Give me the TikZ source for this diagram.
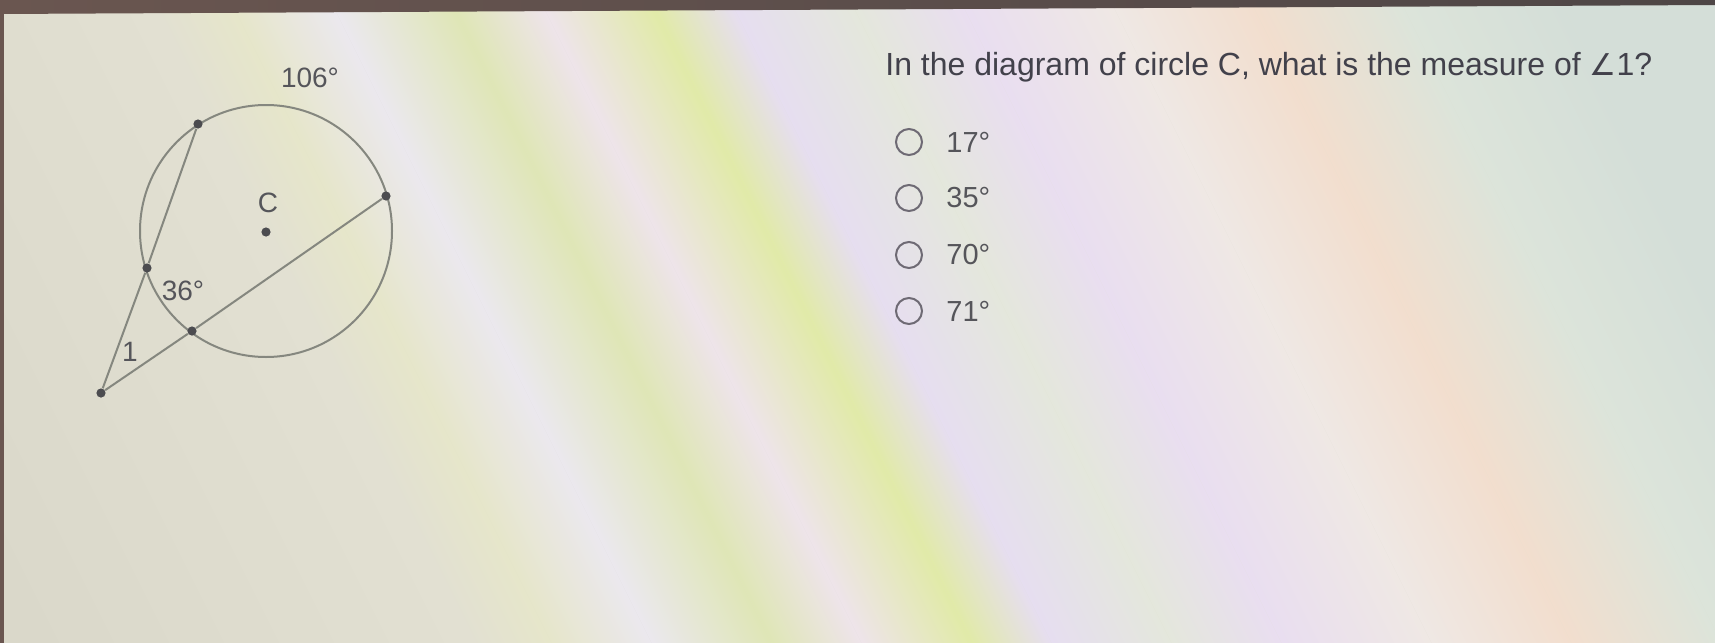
\documentclass[tikz,border=0pt]{standalone}
\usepackage{fontspec}
\setmainfont{Liberation Sans}
\newfontfamily\dejavu{DejaVu Sans}
\definecolor{c0}{HTML}{D8D6C8}
\definecolor{c1}{HTML}{E2E0D2}
\definecolor{c2}{HTML}{E6E6CA}
\definecolor{c3}{HTML}{EBE8EE}
\definecolor{c4}{HTML}{DFE6B6}
\definecolor{c5}{HTML}{EEE4EA}
\definecolor{c6}{HTML}{E1EAA8}
\definecolor{c7}{HTML}{E6DEF0}
\definecolor{c8}{HTML}{E4E7DC}
\definecolor{c9}{HTML}{E9DEF0}
\definecolor{c10}{HTML}{EFE8E4}
\definecolor{c11}{HTML}{F2DECE}
\definecolor{c12}{HTML}{DCE4DA}
\definecolor{c13}{HTML}{D4DED8}
\definecolor{bezel}{HTML}{4E4646}
\definecolor{bezelL}{HTML}{6A5650}
\definecolor{geo}{HTML}{85877F}
\definecolor{dotc}{HTML}{4C4C50}
\definecolor{lab}{HTML}{55555A}
\definecolor{qtext}{HTML}{42414B}
\definecolor{radioc}{HTML}{6E6A74}
\begin{document}
\begin{tikzpicture}[x=0.5pt,y=-0.5pt,
  geoline/.style={draw=geo, line width=1pt},
  ptdot/.style={circle, fill=dotc, inner sep=0pt, minimum size=4.6pt},
  glabel/.style={text=lab, font=\fontsize{14}{16}\selectfont, inner sep=0pt},
  radio/.style={circle, draw=radioc, line width=1pt, minimum size=13pt, inner sep=0pt},
  opt/.style={text=lab, font=\fontsize{14.5}{17}\selectfont, inner sep=0pt, anchor=west}]
\useasboundingbox (0,0) rectangle (1715,643);
% background streaks
\begin{scope}
\clip (0,0) rectangle (1715,643);
\fill[c1] (0,0) rectangle (1715,643);
\begin{scope}[transform canvas={xslant=-0.5}]
\shade[left color=c0, right color=c1] (-400,-20) rectangle (150,670);
\shade[left color=c1, right color=c2] (150,-20) rectangle (230,670);
\shade[left color=c2, right color=c3] (230,-20) rectangle (330,670);
\shade[left color=c3, right color=c4] (330,-20) rectangle (450,670);
\shade[left color=c4, right color=c5] (450,-20) rectangle (540,670);
\shade[left color=c5, right color=c6] (540,-20) rectangle (650,670);
\shade[left color=c6, right color=c7] (650,-20) rectangle (730,670);
\shade[left color=c7, right color=c8] (730,-20) rectangle (850,670);
\shade[left color=c8, right color=c9] (850,-20) rectangle (960,670);
\shade[left color=c9, right color=c10] (960,-20) rectangle (1110,670);
\shade[left color=c10, right color=c11] (1110,-20) rectangle (1250,670);
\shade[left color=c11, right color=c12] (1250,-20) rectangle (1400,670);
\shade[left color=c12, right color=c13] (1400,-20) rectangle (1560,670);
\fill[c13] (1560,-20) rectangle (1900,670);
\end{scope}
\end{scope}
% screen bezel
\shade[left color=bezelL, right color=bezel] (0,0) -- (1715,0) -- (1715,5) -- (0,14) -- cycle;
\fill[bezelL] (0,0) rectangle (4,643);

% circle diagram
\node[circle, draw=geo, line width=1pt, minimum size=126pt, inner sep=0pt] (circ) at (266,231) {};
\node[ptdot] (C) at (266,232) {};
\node[ptdot] (A) at (198,124) {};
\node[ptdot] (B) at (386,196) {};
\node[ptdot] (D) at (147,268) {};
\node[ptdot] (E) at (192,331) {};
\node[ptdot] (P) at (101,393) {};
\draw[geoline] (P) -- (D);
\draw[geoline] (D) -- (A);
\draw[geoline] (P) -- (E);
\draw[geoline] (E) -- (B);

\node[glabel] (l106) at (310,78) {106°};
\node[glabel] (lC) at (268,203) {C};
\node[glabel] (l36) at (183,291) {36°};
\node[glabel] (l1) at (130,352) {1};

% question
\node[text=qtext, font=\fontsize{16}{19}\selectfont, inner sep=0pt, anchor=base west] (q) at (885,75)
  {In the diagram of circle C, what is the measure of {\dejavu\fontsize{15}{18}\selectfont ∠}1?};

% options
\node[radio] (r1) at (909,142) {};
\node[radio] (r2) at (909,198) {};
\node[radio] (r3) at (909,255) {};
\node[radio] (r4) at (909,311) {};
\node[opt] (o1) at (946,142) {17°};
\node[opt] (o2) at (946,198) {35°};
\node[opt] (o3) at (946,255) {70°};
\node[opt] (o4) at (946,311) {71°};
\end{tikzpicture}
\end{document}
